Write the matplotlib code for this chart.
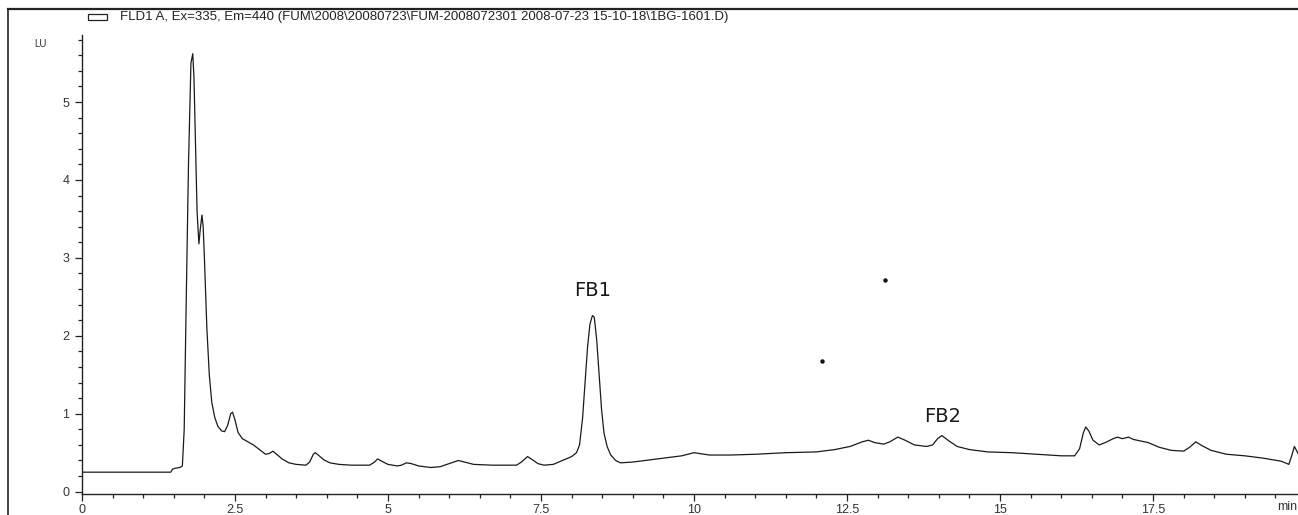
import matplotlib
matplotlib.use('Agg')
from matplotlib import pyplot as plt
from matplotlib.lines import Line2D
from matplotlib.patches import Rectangle
from matplotlib.ticker import MultipleLocator

# retention time (min) and fluorescence (LU)
time_min = [0.0, 1.45, 1.48, 1.52, 1.60, 1.64, 1.67, 1.70, 1.74, 1.78, 1.81, 1.83, 1.85, 1.88,
            1.91, 1.93, 1.96, 1.98, 2.00, 2.04, 2.08, 2.12, 2.17, 2.22, 2.28, 2.33, 2.38, 2.43,
            2.46, 2.50, 2.55, 2.62, 2.71, 2.80, 2.90, 3.00, 3.06, 3.12, 3.18, 3.27, 3.38, 3.50,
            3.66, 3.72, 3.78, 3.81, 3.86, 3.95, 4.05, 4.20, 4.40, 4.70, 4.78, 4.83, 4.90, 5.00,
            5.15, 5.22, 5.30, 5.38, 5.50, 5.70, 5.85, 6.00, 6.15, 6.25, 6.40, 6.70, 7.10, 7.18,
            7.28, 7.36, 7.45, 7.55, 7.70, 7.85, 8.00, 8.08, 8.13, 8.18, 8.22, 8.26, 8.30, 8.34,
            8.37, 8.41, 8.45, 8.49, 8.53, 8.58, 8.64, 8.72, 8.80, 9.00, 9.20, 9.50, 9.80, 9.95,
            10.00, 10.08, 10.25, 10.6, 11.0, 11.5, 12.0, 12.3, 12.55, 12.75, 12.85, 12.95, 13.1,
            13.2, 13.33, 13.45, 13.6, 13.8, 13.9, 13.98, 14.05, 14.15, 14.3, 14.5, 14.8, 15.2,
            15.6, 16.0, 16.22, 16.30, 16.36, 16.40, 16.45, 16.52, 16.62, 16.72, 16.85, 16.92,
            17.0, 17.1, 17.18, 17.3, 17.42, 17.6, 17.8, 18.0, 18.1, 18.2, 18.3, 18.45, 18.7,
            19.0, 19.3, 19.6, 19.72, 19.77, 19.81, 19.85, 19.9]
signal_lu = [0.25, 0.25, 0.29, 0.30, 0.31, 0.33, 0.8, 2.3, 4.2, 5.5, 5.62, 5.3, 4.6, 3.6,
             3.18, 3.35, 3.55, 3.4, 3.0, 2.1, 1.5, 1.15, 0.95, 0.84, 0.78, 0.77, 0.85, 1.0,
             1.02, 0.92, 0.76, 0.68, 0.64, 0.60, 0.54, 0.48, 0.49, 0.52, 0.48, 0.42, 0.37, 0.35,
             0.34, 0.38, 0.48, 0.50, 0.47, 0.41, 0.37, 0.35, 0.34, 0.34, 0.38, 0.42, 0.39, 0.35,
             0.33, 0.34, 0.37, 0.36, 0.33, 0.31, 0.32, 0.36, 0.40, 0.38, 0.35, 0.34, 0.34, 0.38,
             0.45, 0.41, 0.36, 0.34, 0.35, 0.40, 0.45, 0.50, 0.60, 0.95, 1.40, 1.85, 2.15, 2.26,
             2.24, 1.95, 1.50, 1.05, 0.75, 0.58, 0.47, 0.40, 0.37, 0.38, 0.40, 0.43, 0.46, 0.49,
             0.50, 0.49, 0.47, 0.47, 0.48, 0.50, 0.51, 0.54, 0.58, 0.64, 0.66, 0.63, 0.61,
             0.64, 0.70, 0.66, 0.60, 0.58, 0.60, 0.68, 0.72, 0.66, 0.58, 0.54, 0.51, 0.50,
             0.48, 0.46, 0.46, 0.55, 0.75, 0.83, 0.78, 0.66, 0.60, 0.63, 0.68, 0.70,
             0.68, 0.70, 0.67, 0.65, 0.63, 0.57, 0.53, 0.52, 0.57, 0.64, 0.59, 0.53, 0.48,
             0.46, 0.43, 0.39, 0.35, 0.47, 0.58, 0.52, 0.45]

peak_names = ['FB1', 'FB2']
peak_label_x = [8.35, 14.07]
peak_label_y = [2.58, 0.97]

dot_x = [13.12, 12.09]
dot_y = [2.72, 1.68]

x_major = [0, 2.5, 5, 7.5, 10, 12.5, 15, 17.5]
x_labels = ['0', '2.5', '5', '7.5', '10', '12.5', '15', '17.5']
y_major = [0, 1, 2, 3, 4, 5]

title = r'FLD1 A, Ex=335, Em=440 (FUM\2008\20080723\FUM-2008072301 2008-07-23 15-10-18\1BG-1601.D)'

W, H = 1298, 515
fig = plt.figure(figsize=(W / 100, H / 100), dpi=100)
ax = fig.add_axes([82 / W, (H - 494) / H, 1 - 82 / W, (494 - 35) / H])

ax.plot(time_min, signal_lu, color='#1a1a1a', lw=0.9)
ax.plot(dot_x, dot_y, 'o', color='#111111', ms=2.2, ls='none')
for name, px, py in zip(peak_names, peak_label_x, peak_label_y):
    ax.text(px, py, name, ha='center', va='center', fontsize=14,
            family='DejaVu Sans', color='#1a1a1a')

ax.set_xlim(0, (W - 82) / 61.2)
ax.set_ylim(-0.03, 5.86)
for s in ['top', 'right']:
    ax.spines[s].set_visible(False)
for s in ['left', 'bottom']:
    ax.spines[s].set_color('#222222')
    ax.spines[s].set_linewidth(1.0)

ax.set_xticks(x_major)
ax.set_xticklabels(x_labels)
ax.set_yticks(y_major)
ax.xaxis.set_minor_locator(MultipleLocator(0.5))
ax.yaxis.set_minor_locator(MultipleLocator(0.2))
ax.tick_params(which='major', length=5, width=0.9, color='#222222',
               labelsize=9, labelcolor='#333333')
ax.tick_params(which='minor', length=3, width=0.9, color='#222222')
for lab in ax.get_xticklabels() + ax.get_yticklabels():
    lab.set_family('Liberation Sans')
ax.tick_params(axis='x', pad=2)
ax.tick_params(axis='y', pad=4)

# unit labels
fig.text(1297 / W, 1 - 507 / H, 'min', fontsize=9, family='Liberation Sans',
         color='#333333', va='center', ha='right')
fig.text(40 / W, 1 - 44 / H, 'LU', fontsize=7, family='Liberation Sans',
         color='#333333', va='center', ha='center')

# header with legend box
fig.add_artist(Rectangle((88 / W, 1 - 20 / H), 19 / W, 6 / H, transform=fig.transFigure,
                         fill=False, edgecolor='#222222', lw=0.9))
fig.text(120 / W, 1 - 17 / H, title, fontsize=9.5, family='Liberation Sans',
         color='#222222', va='center', ha='left')

# outer frame (left and top edges)
fig.add_artist(Line2D([8 / W, 8 / W], [0, 1 - 9 / H], transform=fig.transFigure,
                      color='#222222', lw=1.2))
fig.add_artist(Line2D([8 / W, 1], [1 - 9 / H, 1 - 9 / H], transform=fig.transFigure,
                      color='#222222', lw=1.6))

fig.savefig('out.png', dpi=100)
